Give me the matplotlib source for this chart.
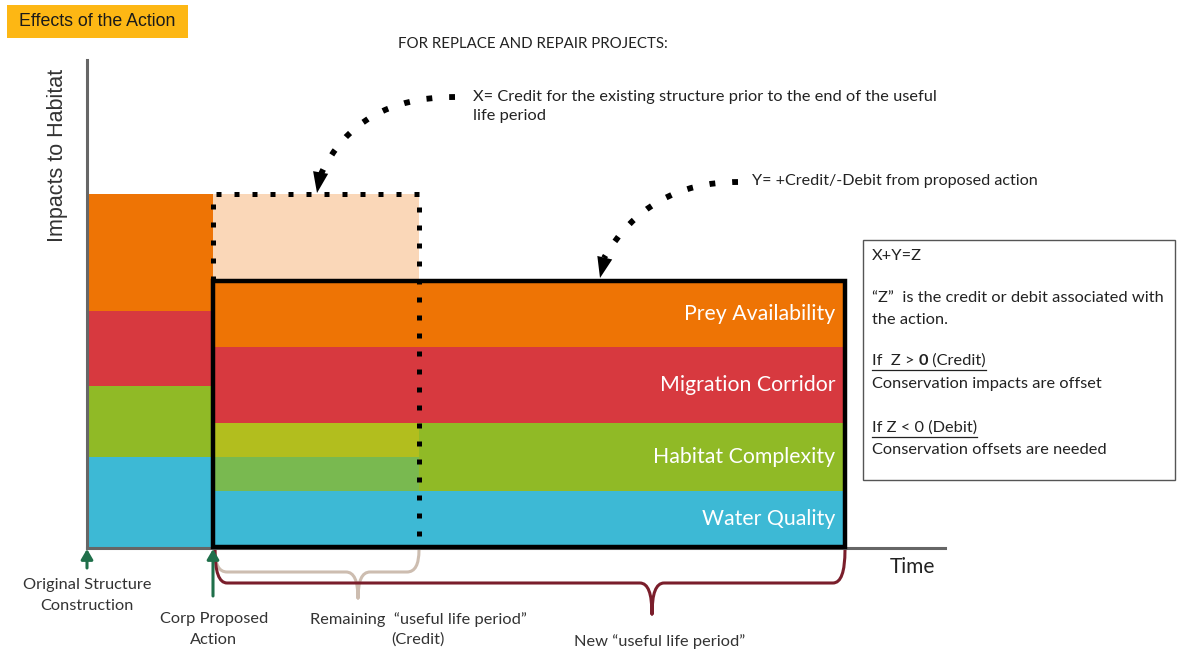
import matplotlib.pyplot as plt
from matplotlib.patches import Rectangle, PathPatch
from matplotlib.path import Path

plt.rcParams['font.family'] = ['Lato', 'DejaVu Sans']

# habitat layers, bottom to top (diagram units = pixels, y grows downward)
layers = ["Water Quality", "Habitat Complexity", "Migration Corridor", "Prey Availability"]
layer_colors = ["#3DB9D5", "#90BA26", "#D7393F", "#EE7405"]
before_heights = [90, 71, 75, 117]   # existing structure
after_heights = [56, 68, 76, 66]     # proposed action
# green band split while the old structure would still be in its useful life
overlap_heights = [34, 34]
overlap_colors = ["#79B950", "#B2BE1E"]
credit_color = "#FAD7B8"

# time marks
t_origin = 88
t_action = 213
t_end_old = 419
t_end_new = 845
t_axis_end = 945
baseline = 547
y_axis_top = 60

box_lines = ["X+Y=Z", "", "\u201cZ\u201d  is the credit or debit associated with", "the action.", "",
             None, "Conservation impacts are offset", "", None, "Conservation offsets are needed"]

TXT = "#222222"
fig = plt.figure(figsize=(11.78, 6.5), dpi=100)
ax = fig.add_axes([0, 0, 1, 1])
ax.set_xlim(0, 1178)
ax.set_ylim(650, 0)
ax.axis('off')

# existing structure stack
bottom = baseline
for h, c in zip(before_heights, layer_colors):
    ax.bar(t_origin, -h, bottom=bottom, width=t_action - t_origin, align='edge', color=c, lw=0)
    bottom -= h
credit_top = bottom

# proposed action stack
bottom = baseline
centers = []
for h, c in zip(after_heights, layer_colors):
    ax.bar(t_action, -h, bottom=bottom, width=t_end_new - t_action, align='edge', color=c, lw=0)
    centers.append(bottom - h / 2)
    bottom -= h
after_top = bottom

# overlap of green band
bottom = baseline - after_heights[0]
for h, c in zip(overlap_heights, overlap_colors):
    ax.bar(t_action, -h, bottom=bottom, width=t_end_old - t_action, align='edge', color=c, lw=0)
    bottom -= h

# remaining credit of old structure
ax.bar(t_action, credit_top - after_top, bottom=after_top, width=t_end_old - t_action,
       align='edge', color=credit_color, lw=0)

# axes lines
ax.plot([t_origin - 1, t_origin - 1], [y_axis_top, baseline + 1], color="#666666", lw=2.2, zorder=3)
ax.plot([t_origin - 1, t_axis_end], [baseline + 1, baseline + 1], color="#666666", lw=2.2, zorder=3)

# dotted outline of the credit region
ax.plot([t_action, t_action, t_end_old, t_end_old], [after_top, credit_top, credit_top, baseline],
        color='k', lw=3.6, ls=(0, (1, 2.6)), dash_capstyle='butt', zorder=5)

# proposed action box
ax.add_patch(Rectangle((t_action, after_top), t_end_new - t_action, baseline - after_top,
                       fill=False, ec='k', lw=3.2, zorder=6))

for name, yc in zip(layers, centers):
    ax.text(t_end_new - 10, yc, name, ha='right', va='center', color='white', fontsize=15.3, zorder=7)

# title tag
ax.add_patch(Rectangle((7, 5), 181, 33, color="#FDB714", lw=0))
ax.text(97, 21.5, "Effects of the Action", ha='center', va='center', fontsize=12.8,
        family=['Liberation Sans', 'DejaVu Sans'], color="#1A1A1A")
ax.text(533, 44, "FOR REPLACE AND REPAIR PROJECTS:", ha='center', va='center', fontsize=10.8, color=TXT)
ax.text(58, 155, "Impacts to Habitat", ha='center', va='center', rotation=90, fontsize=15.5,
        family=['Liberation Sans', 'DejaVu Sans'], color="#333333")
ax.text(912, 567, "Time", ha='center', va='center', fontsize=15, color=TXT)

# dotted callout arrows: dotted curve plus solid head
curve_kw = dict(arrowstyle='-', lw=4.2, ls=(0, (1, 2.9)), color='k', shrinkA=0, shrinkB=0, capstyle='butt')
head_kw = dict(arrowstyle='-|>,head_length=1.5,head_width=0.55', lw=0, color='k', shrinkA=0, shrinkB=0,
               mutation_scale=10)
ax.annotate("", xy=(321, 174), xytext=(455, 97),
            arrowprops=dict(connectionstyle='angle3,angleA=0,angleB=65', **curve_kw), zorder=8)
ax.annotate("", xy=(317, 193), xytext=(320, 176), arrowprops=head_kw, zorder=8)
ax.annotate("", xy=(604, 258), xytext=(738, 182),
            arrowprops=dict(connectionstyle='angle3,angleA=0,angleB=60', **curve_kw), zorder=8)
ax.annotate("", xy=(600, 278), xytext=(604, 261), arrowprops=head_kw, zorder=8)

ax.text(473, 97, "X= Credit for the existing structure prior to the end of the useful",
        va='center', fontsize=11.8, color=TXT)
ax.text(473, 116, "life period", va='center', fontsize=11.8, color=TXT)
ax.text(752, 181, "Y= +Credit/-Debit from proposed action", va='center', fontsize=11.6, color=TXT)

# explanation box
BOX_FS = 11.8
ax.add_patch(Rectangle((863, 240), 312, 240, fill=False, ec="#555555", lw=1.0))
line_y = [256, 277, 298, 320, 340, 361, 384, 406, 428, 450]
for txt, yy in zip(box_lines, line_y):
    if txt:
        ax.text(872, yy, txt, va='center', fontsize=BOX_FS, color=TXT)

fig.canvas.draw()
renderer = fig.canvas.get_renderer()
inv = ax.transData.inverted()


def runs(x, y, parts):
    start = x
    for txt, weight in parts:
        t = ax.text(x, y, txt, va='center', fontsize=BOX_FS, color=TXT, weight=weight)
        bb = t.get_window_extent(renderer).transformed(inv)
        x = max(bb.x0, bb.x1)
    ax.plot([start, x], [y + 9, y + 9], color=TXT, lw=0.9)


runs(872, 361, [("If  Z > ", 'normal'), ("0", 'bold'), (" (Credit)", 'normal')])
runs(872, 428, [("If Z < 0 (Debit)", 'normal')])

# time markers
mark_kw = dict(arrowstyle='-|>,head_length=0.6,head_width=0.35', lw=2.2, color="#1F6F4A",
               shrinkA=0, shrinkB=0, mutation_scale=10)
ax.annotate("", xy=(t_origin - 1, baseline + 2), xytext=(t_origin - 1, 568), arrowprops=mark_kw)
ax.annotate("", xy=(t_action, baseline + 2), xytext=(t_action, 596), arrowprops=mark_kw)
LAB_FS = 11.8
ax.text(87, 585, "Original Structure", ha='center', va='center', fontsize=LAB_FS, color="#333333")
ax.text(87, 606, "Construction", ha='center', va='center', fontsize=LAB_FS, color="#333333")
ax.text(214, 619, "Corp Proposed", ha='center', va='center', fontsize=LAB_FS, color="#333333")
ax.text(214, 640, "Action", ha='center', va='center', fontsize=LAB_FS, color="#333333")


def brace(x0, x1, xc, y0, yh, yt, color, lw):
    r = 12
    verts = [(x0, y0), (x0, yh), (x0 + r, yh), (xc - r, yh), (xc, yh), (xc, yt),
             (xc, yt), (xc, yh), (xc + r, yh), (x1 - r, yh), (x1, yh), (x1, y0)]
    codes = [Path.MOVETO, Path.CURVE3, Path.CURVE3, Path.LINETO, Path.CURVE3, Path.CURVE3,
             Path.MOVETO, Path.CURVE3, Path.CURVE3, Path.LINETO, Path.CURVE3, Path.CURVE3]
    ax.add_patch(PathPatch(Path(verts, codes), fill=False, ec=color, lw=lw, capstyle='round'))


brace(t_action + 2, t_end_old, 358, baseline + 3, 572, 598, "#CDBDB0", 2.2)
brace(t_action + 2, t_end_new, 652, baseline + 3, 583, 614, "#7A1E2B", 2.2)

ax.text(418, 620, "Remaining  \u201cuseful life period\u201d", ha='center', va='center', fontsize=LAB_FS, color="#333333")
ax.text(418, 640, "(Credit)", ha='center', va='center', fontsize=LAB_FS, color="#333333")
ax.text(660, 642, "New \u201cuseful life period\u201d", ha='center', va='center', fontsize=LAB_FS, color="#333333")

fig.savefig("out.png", dpi=100)
